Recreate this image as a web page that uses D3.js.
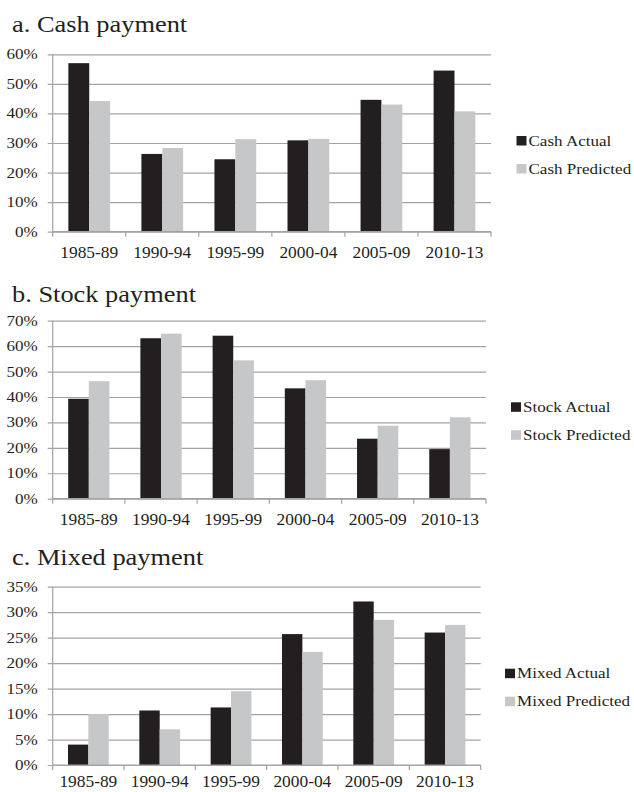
<!DOCTYPE html>
<html>
<head>
<meta charset="utf-8">
<script src="https://cdn.jsdelivr.net/npm/d3@7/dist/d3.min.js"></script>
<style>
  html, body { margin: 0; padding: 0; background: #fff; }
  svg { display: block; }
  text { font-family: "Liberation Serif", "Tinos", "Times New Roman", Times, "DejaVu Serif", serif; fill: #231f20; }
</style>
</head>
<body>
<svg id="chart" width="634" height="792"></svg>
<script>
// Deal periods shared by all three panels
const periods = ["1985-89", "1990-94", "1995-99", "2000-04", "2005-09", "2010-13"];

// Share of deals by method of payment (%), actual vs. model-predicted
const cashActual     = [57.0, 26.3, 24.5, 30.9, 44.6, 54.5];
const cashPredicted  = [44.2, 28.3, 31.3, 31.4, 43.0, 40.7];
const stockActual    = [39.3, 63.1, 64.1, 43.4, 23.6, 19.5];
const stockPredicted = [46.2, 64.9, 54.4, 46.6, 28.7, 32.0];
const mixedActual    = [4.0, 10.7, 11.3, 25.7, 32.1, 26.0];
const mixedPredicted = [10.0, 7.0, 14.5, 22.2, 28.5, 27.5];

// Y-axis tick values per panel (%)
const cashTicks  = [0, 10, 20, 30, 40, 50, 60];
const stockTicks = [0, 10, 20, 30, 40, 50, 60, 70];
const mixedTicks = [0, 5, 10, 15, 20, 25, 30, 35];

const panels = [
  { title: "a. Cash payment",  names: ["Cash Actual", "Cash Predicted"],
    actual: cashActual, predicted: cashPredicted, ticks: cashTicks,
    box: { left: 52.7, right: 491, top: 54.3, bottom: 231.7 }, titleY: 31.5, labelDy: 26.5,
    legend: { x: 516.5, y: 136 } },
  { title: "b. Stock payment", names: ["Stock Actual", "Stock Predicted"],
    actual: stockActual, predicted: stockPredicted, ticks: stockTicks,
    box: { left: 52.7, right: 486, top: 320.7, bottom: 498.7 }, titleY: 301.5, labelDy: 26.5,
    legend: { x: 511, y: 402.3 } },
  { title: "c. Mixed payment", names: ["Mixed Actual", "Mixed Predicted"],
    actual: mixedActual, predicted: mixedPredicted, ticks: mixedTicks,
    box: { left: 52.7, right: 480.7, top: 586.7, bottom: 765 }, titleY: 565, labelDy: 21.5,
    legend: { x: 505, y: 668.7 } }
];

const colors = ["#231f20", "#c6c7c9"];
const gridColor = "#a3a3a3";
const stretch = 1.1;   // horizontal widening of the serif type

const svg = d3.select("#chart");

// Text helper: places a label at (x, y) with a slight horizontal stretch
function label(g, x, y, str, size, anchor) {
  return g.append("text")
    .attr("transform", `translate(${x},${y}) scale(${stretch},1)`)
    .attr("font-size", size)
    .attr("text-anchor", anchor || "start")
    .text(str);
}

panels.forEach(p => {
  const g = svg.append("g");
  const b = p.box;

  const x0 = d3.scaleBand().domain(periods).range([b.left, b.right]).paddingInner(0).paddingOuter(0);
  const x1 = d3.scaleBand().domain([0, 1]).range([0, x0.bandwidth()]).paddingInner(0).paddingOuter(0.75);
  const y = d3.scaleLinear().domain([0, d3.max(p.ticks)]).range([b.bottom, b.top]);

  // Title
  label(g, 12, p.titleY, p.title, 24);

  // Horizontal gridlines with short outer ticks
  const yAxis = g.append("g")
    .attr("transform", `translate(${b.left},0)`)
    .call(d3.axisLeft(y).tickValues(p.ticks).tickSize(-(b.right - b.left)).tickSizeOuter(0).tickFormat(""));
  yAxis.select(".domain").remove();
  yAxis.selectAll(".tick line").attr("stroke", gridColor).attr("stroke-width", 1.2).attr("x1", -5);

  // Y tick labels
  p.ticks.forEach(t => {
    label(g, 37.7, y(t) + 5, t + "%", 15.5, "end");
  });

  // Bars
  const series = [p.actual, p.predicted];
  series.forEach((vals, si) => {
    g.append("g").selectAll("rect")
      .data(periods.map((per, i) => ({ per, v: vals[i] })))
      .join("rect")
      .attr("x", d => x0(d.per) + x1(si))
      .attr("width", x1.bandwidth())
      .attr("y", d => y(d.v))
      .attr("height", d => y(0) - y(d.v))
      .attr("fill", colors[si]);
  });

  // Axis lines
  g.append("line").attr("x1", b.left).attr("x2", b.left).attr("y1", b.top).attr("y2", b.bottom)
    .attr("stroke", gridColor).attr("stroke-width", 1.2);
  g.append("line").attr("x1", b.left).attr("x2", b.right).attr("y1", y(0)).attr("y2", y(0))
    .attr("stroke", gridColor).attr("stroke-width", 1.2);

  // Category boundary ticks below the baseline
  const bounds = periods.map(d => x0(d)).concat([x0.range()[1]]);
  g.append("g").selectAll("line").data(bounds).join("line")
    .attr("x1", d => d).attr("x2", d => d)
    .attr("y1", y(0)).attr("y2", y(0) + 5)
    .attr("stroke", gridColor).attr("stroke-width", 1.2);

  // Category labels
  periods.forEach(per => {
    label(g, x0(per) + x0.bandwidth() / 2, y(0) + p.labelDy, per, 15.8, "middle");
  });

  // Legend
  p.names.forEach((name, i) => {
    const ly = p.legend.y + i * 28;
    g.append("rect").attr("x", p.legend.x).attr("y", ly).attr("width", 10).attr("height", 9.5)
      .attr("fill", colors[i]);
    label(g, p.legend.x + 12, ly + 9.7, name, 15.5);
  });
});
</script>
</body>
</html>
